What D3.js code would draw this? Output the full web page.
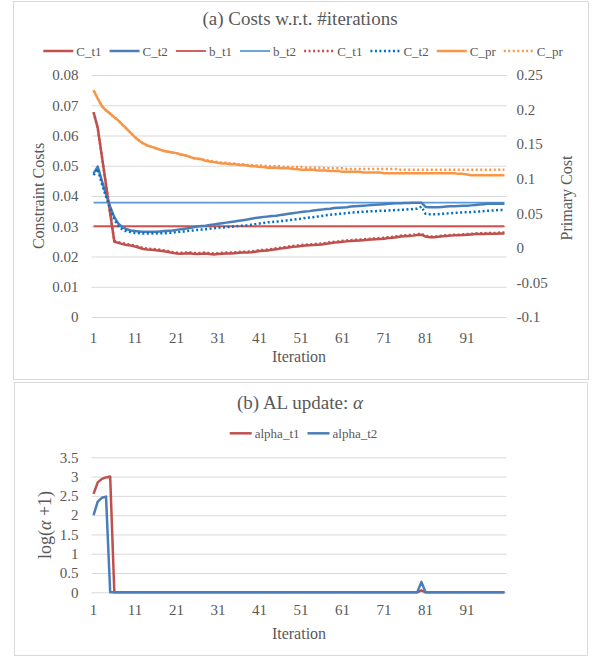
<!DOCTYPE html>
<html>
<head>
<meta charset="utf-8">
<script src="https://cdn.jsdelivr.net/npm/d3@7"></script>
<style>
  body { margin: 0; background: #fff; }
  svg text { font-family: "Liberation Serif", "DejaVu Serif", serif; fill: #595959; }
</style>
</head>
<body>
<div id="chart"></div>
<script>
// iterations 1..100
const iterations = d3.range(1, 101);
const xTicks = [1, 11, 21, 31, 41, 51, 61, 71, 81, 91];

// (a) constraint costs (left axis)
const C_t1 = [
  .0677,.0625,.0531,.0437,.0343,.0249,.0245,.0241,.0238,.0236,
  .0233,.0229,.0225,.0223,.0222,.0221,.0219,.0217,.0215,.0212,
  .0210,.0209,.0210,.0211,.0209,.0208,.0209,.0210,.0208,.0207,
  .0208,.0209,.0210,.0210,.0211,.0212,.0213,.0213,.0214,.0216,
  .0218,.0219,.0220,.0222,.0224,.0226,.0228,.0230,.0232,.0233,
  .0235,.0236,.0237,.0238,.0239,.0240,.0242,.0244,.0246,.0247,
  .0249,.0250,.0251,.0252,.0253,.0254,.0255,.0256,.0257,.0258,
  .0259,.0261,.0262,.0264,.0266,.0267,.0268,.0269,.0271,.0272,
  .0266,.0264,.0264,.0265,.0267,.0268,.0269,.0270,.0270,.0271,
  .0272,.0273,.0274,.0274,.0274,.0275,.0275,.0275,.0276,.0276
];
const C_t2 = [
  .0475,.0497,.0450,.0405,.0365,.0330,.0308,.0297,.0290,.0286,
  .0284,.0283,.0282,.0282,.0282,.0282,.0283,.0284,.0285,.0286,
  .0288,.0290,.0292,.0294,.0297,.0299,.0301,.0302,.0304,.0306,
  .0308,.0310,.0312,.0314,.0316,.0318,.0320,.0322,.0325,.0327,
  .0329,.0331,.0332,.0334,.0335,.0337,.0339,.0341,.0343,.0345,
  .0347,.0349,.0350,.0352,.0354,.0355,.0357,.0358,.0360,.0361,
  .0362,.0363,.0365,.0366,.0367,.0368,.0369,.0370,.0371,.0372,
  .0373,.0374,.0375,.0376,.0376,.0377,.0377,.0378,.0378,.0378,
  .0364,.0363,.0363,.0363,.0364,.0365,.0366,.0366,.0367,.0368,
  .0368,.0369,.0370,.0372,.0373,.0374,.0374,.0374,.0374,.0374
];
const b_t1 = [
  .03,.03,.03,.03,.03,.03,.03,.03,.03,.03,
  .03,.03,.03,.03,.03,.03,.03,.03,.03,.03,
  .03,.03,.03,.03,.03,.03,.03,.03,.03,.03,
  .03,.03,.03,.03,.03,.03,.03,.03,.03,.03,
  .03,.03,.03,.03,.03,.03,.03,.03,.03,.03,
  .03,.03,.03,.03,.03,.03,.03,.03,.03,.03,
  .03,.03,.03,.03,.03,.03,.03,.03,.03,.03,
  .03,.03,.03,.03,.03,.03,.03,.03,.03,.03,
  .03,.03,.03,.03,.03,.03,.03,.03,.03,.03,
  .03,.03,.03,.03,.03,.03,.03,.03,.03,.03
];
const b_t2 = [
  .0378,.0378,.0378,.0378,.0378,.0378,.0378,.0378,.0378,.0378,
  .0378,.0378,.0378,.0378,.0378,.0378,.0378,.0378,.0378,.0378,
  .0378,.0378,.0378,.0378,.0378,.0378,.0378,.0378,.0378,.0378,
  .0378,.0378,.0378,.0378,.0378,.0378,.0378,.0378,.0378,.0378,
  .0378,.0378,.0378,.0378,.0378,.0378,.0378,.0378,.0378,.0378,
  .0378,.0378,.0378,.0378,.0378,.0378,.0378,.0378,.0378,.0378,
  .0378,.0378,.0378,.0378,.0378,.0378,.0378,.0378,.0378,.0378,
  .0378,.0378,.0378,.0378,.0378,.0378,.0378,.0378,.0378,.0378,
  .0378,.0378,.0378,.0378,.0378,.0378,.0378,.0378,.0378,.0378,
  .0378,.0378,.0378,.0378,.0378,.0378,.0378,.0378,.0378,.0378
];
const C_t1_dot = [
  .0677,.0625,.0531,.0437,.0343,.0251,.0247,.0244,.0241,.0239,
  .0236,.0232,.0228,.0226,.0225,.0224,.0222,.0220,.0218,.0215,
  .0213,.0212,.0213,.0214,.0212,.0211,.0212,.0213,.0211,.0210,
  .0211,.0212,.0213,.0213,.0214,.0215,.0216,.0216,.0217,.0219,
  .0221,.0222,.0223,.0225,.0227,.0229,.0231,.0233,.0235,.0236,
  .0238,.0239,.0240,.0241,.0242,.0243,.0245,.0247,.0249,.0250,
  .0252,.0253,.0254,.0255,.0256,.0257,.0258,.0259,.0260,.0261,
  .0262,.0264,.0265,.0267,.0269,.0270,.0271,.0272,.0274,.0275,
  .0268,.0266,.0266,.0267,.0269,.0270,.0271,.0272,.0272,.0273,
  .0274,.0275,.0276,.0277,.0277,.0278,.0278,.0278,.0279,.0279
];
const C_t2_dot = [
  .0469,.0490,.0440,.0398,.0358,.0322,.0300,.0289,.0283,.0280,
  .0278,.0277,.0276,.0276,.0276,.0276,.0277,.0277,.0278,.0279,
  .0281,.0282,.0283,.0285,.0286,.0288,.0289,.0290,.0292,.0293,
  .0295,.0296,.0297,.0298,.0300,.0301,.0302,.0303,.0305,.0307,
  .0309,.0311,.0313,.0314,.0315,.0317,.0318,.0320,.0322,.0323,
  .0325,.0327,.0329,.0330,.0332,.0334,.0336,.0338,.0339,.0341,
  .0342,.0343,.0345,.0346,.0347,.0348,.0349,.0350,.0350,.0351,
  .0351,.0352,.0353,.0354,.0354,.0355,.0356,.0357,.0358,.0365,
  .0341,.0340,.0340,.0340,.0341,.0342,.0343,.0344,.0345,.0346,
  .0346,.0347,.0348,.0349,.0350,.0351,.0352,.0353,.0354,.0354
];

// (a) primary cost (right axis)
const C_pr = [
  .228,.216,.205,.199,.194,.189,.184,.178,.172,.166,
  .160,.155,.151,.148,.146,.144,.142,.140,.139,.138,
  .137,.135,.134,.132,.130,.129,.128,.126,.125,.124,
  .123,.122,.122,.121,.121,.120,.120,.119,.118,.118,
  .117,.117,.116,.116,.116,.115,.115,.115,.114,.114,
  .113,.113,.113,.113,.112,.112,.112,.111,.111,.111,
  .110,.110,.110,.110,.110,.109,.109,.109,.109,.109,
  .108,.108,.108,.108,.108,.108,.108,.108,.108,.108,
  .108,.108,.108,.108,.108,.108,.108,.108,.107,.107,
  .106,.105,.105,.105,.105,.105,.105,.105,.105,.105
];
const C_pr_dot = [
  .228,.216,.205,.199,.194,.189,.184,.178,.172,.166,
  .160,.155,.151,.148,.146,.144,.142,.140,.139,.138,
  .137,.135,.134,.132,.130,.129,.128,.127,.126,.125,
  .124,.123,.123,.122,.122,.121,.121,.120,.120,.119,
  .119,.119,.118,.118,.118,.118,.117,.117,.117,.117,
  .117,.116,.116,.116,.116,.116,.115,.115,.115,.115,
  .115,.114,.114,.114,.114,.114,.114,.114,.114,.114,
  .114,.114,.114,.114,.113,.113,.113,.113,.113,.113,
  .113,.113,.113,.113,.113,.113,.113,.113,.113,.113,
  .113,.113,.113,.113,.113,.113,.113,.113,.113,.113
];

// (b) AL update, log(alpha+1)
const alpha_t1 = [
  2.55,2.85,2.94,2.98,3.00,0,0,0,0,0,
  0,0,0,0,0,0,0,0,0,0,
  0,0,0,0,0,0,0,0,0,0,
  0,0,0,0,0,0,0,0,0,0,
  0,0,0,0,0,0,0,0,0,0,
  0,0,0,0,0,0,0,0,0,0,
  0,0,0,0,0,0,0,0,0,0,
  0,0,0,0,0,0,0,0,0,0.05,
  0,0,0,0,0,0,0,0,0,0,
  0,0,0,0,0,0,0,0,0,0
];
const alpha_t2 = [
  2.00,2.35,2.45,2.48,0,0,0,0,0,0,
  0,0,0,0,0,0,0,0,0,0,
  0,0,0,0,0,0,0,0,0,0,
  0,0,0,0,0,0,0,0,0,0,
  0,0,0,0,0,0,0,0,0,0,
  0,0,0,0,0,0,0,0,0,0,
  0,0,0,0,0,0,0,0,0,0,
  0,0,0,0,0,0,0,0,0,0.27,
  0,0,0,0,0,0,0,0,0,0,
  0,0,0,0,0,0,0,0,0,0
];

const leftTicks = [0, .01, .02, .03, .04, .05, .06, .07, .08];
const rightTicks = [-.1, -.05, 0, .05, .1, .15, .2, .25];
const alphaTicks = [0, .5, 1, 1.5, 2, 2.5, 3, 3.5];

const w = 593, h = 659;
const gridColor = "#d9d9d9";
const serif = '"Liberation Serif", "DejaVu Serif", serif';
const fmt = d => String(+d.toFixed(2));

const svg = d3.select("#chart").append("svg")
  .attr("width", w).attr("height", h)
  .attr("font-family", serif);

// panel borders
svg.append("rect").attr("x", 13.5).attr("y", 1.5).attr("width", 575).attr("height", 378)
  .attr("fill", "#fff").attr("stroke", gridColor);
svg.append("rect").attr("x", 14.5).attr("y", 382.5).attr("width", 573).attr("height", 273)
  .attr("fill", "#fff").attr("stroke", gridColor);

const x = d3.scaleBand().domain(iterations).range([91.5, 506.5]);
const xc = d => x(d) + x.bandwidth() / 2;

function styleTicks(g) {
  g.attr("font-family", serif);
  g.selectAll(".tick text").attr("font-size", 15).attr("fill", "#595959");
}

// ---------- (a) ----------
const topA = 75, botA = 317;
const yL = d3.scaleLinear().domain([0, .08]).range([botA, topA]);
const yR = d3.scaleLinear().domain([-.1, .25]).range([botA, topA]);

const gA = svg.append("g");

gA.append("g")
  .attr("transform", "translate(91.5,0)")
  .call(d3.axisLeft(yL).tickValues(leftTicks).tickSize(-415).tickPadding(13).tickFormat(fmt))
  .call(g => g.select(".domain").remove())
  .call(g => g.selectAll(".tick line").attr("stroke", gridColor))
  .call(styleTicks);

gA.append("g")
  .attr("transform", "translate(506.5,0)")
  .call(d3.axisRight(yR).tickValues(rightTicks).tickSize(0).tickPadding(10).tickFormat(fmt))
  .call(g => g.select(".domain").remove())
  .call(styleTicks);

gA.append("g")
  .attr("transform", "translate(0," + botA + ")")
  .call(d3.axisBottom(x).tickValues(xTicks).tickSize(0).tickPadding(15))
  .call(g => g.select(".domain").remove())
  .call(styleTicks);

gA.append("text").text("(a) Costs w.r.t. #iterations")
  .attr("x", 300).attr("y", 25).attr("text-anchor", "middle").attr("font-size", 19);
gA.append("text").text("Iteration")
  .attr("x", 299).attr("y", 362).attr("text-anchor", "middle").attr("font-size", 16);
gA.append("text").text("Constraint Costs")
  .attr("transform", "translate(44,196)rotate(-90)").attr("text-anchor", "middle").attr("font-size", 16);
gA.append("text").text("Primary Cost")
  .attr("transform", "translate(572,198)rotate(-90)").attr("text-anchor", "middle").attr("font-size", 16);

const seriesA = [
  { values: b_t1, color: "#d0504e", width: 1.8, dash: null, y: yL },
  { values: b_t2, color: "#5b9bd5", width: 1.8, dash: null, y: yL },
  { values: C_t1, color: "#c0504d", width: 2.5, dash: null, y: yL },
  { values: C_t2, color: "#4a7ebb", width: 2.5, dash: null, y: yL },
  { values: C_t1_dot, color: "#c0504d", width: 2.5, dash: "2,2.5", y: yL },
  { values: C_t2_dot, color: "#0070c0", width: 2.5, dash: "2,2.5", y: yL },
  { values: C_pr, color: "#f79646", width: 2.5, dash: null, y: yR },
  { values: C_pr_dot, color: "#f79646", width: 2.5, dash: "2,2.5", y: yR }
];

seriesA.forEach(s => {
  const line = d3.line().x((d, i) => xc(iterations[i])).y(d => s.y(d));
  gA.append("path").datum(s.values)
    .attr("d", line).attr("fill", "none")
    .attr("stroke", s.color).attr("stroke-width", s.width)
    .attr("stroke-dasharray", s.dash)
    .attr("stroke-linejoin", "round");
});

// legend (a), in Excel series order
const legendA = [
  { name: "C_t1", color: "#c0504d", dash: null, w: 2.5 },
  { name: "C_t2", color: "#4a7ebb", dash: null, w: 2.5 },
  { name: "b_t1", color: "#d0504e", dash: null, w: 1.8 },
  { name: "b_t2", color: "#5b9bd5", dash: null, w: 1.8 },
  { name: "C_t1", color: "#c0504d", dash: "2,2.5", w: 2.5 },
  { name: "C_t2", color: "#0070c0", dash: "2,2.5", w: 2.5 },
  { name: "C_pr", color: "#f79646", dash: null, w: 2.5 },
  { name: "C_pr", color: "#f79646", dash: "2,2.5", w: 2.5 }
];

function drawLegend(items, cx, cy, lineLen) {
  const g = svg.append("g");
  const parts = items.map(it => {
    const t = g.append("text").text(it.name).attr("font-size", 13).attr("y", cy + 4.5);
    return { it, t, tw: t.node().getComputedTextLength() };
  });
  const gap = 3, sep = 8;
  const total = d3.sum(parts, p => lineLen + gap + p.tw) + sep * (parts.length - 1);
  let cur = cx - total / 2;
  parts.forEach(p => {
    g.append("line").attr("x1", cur).attr("x2", cur + lineLen)
      .attr("y1", cy).attr("y2", cy)
      .attr("stroke", p.it.color).attr("stroke-width", p.it.w)
      .attr("stroke-dasharray", p.it.dash);
    p.t.attr("x", cur + lineLen + gap);
    cur += lineLen + gap + p.tw + sep;
  });
}
drawLegend(legendA, 303, 51, 30);

// ---------- (b) ----------
const topB = 457.3, botB = 592.3;
const yB = d3.scaleLinear().domain([0, 3.5]).range([botB, topB]);
const gB = svg.append("g");

gB.append("g")
  .attr("transform", "translate(91.5,0)")
  .call(d3.axisLeft(yB).tickValues(alphaTicks).tickSize(-415).tickPadding(13).tickFormat(fmt))
  .call(g => g.select(".domain").remove())
  .call(g => g.selectAll(".tick line").attr("stroke", gridColor))
  .call(styleTicks);

gB.append("g")
  .attr("transform", "translate(0," + botB + ")")
  .call(d3.axisBottom(x).tickValues(xTicks).tickSize(0).tickPadding(12))
  .call(g => g.select(".domain").remove())
  .call(styleTicks);

const titleB = gB.append("text").attr("x", 300).attr("y", 409)
  .attr("text-anchor", "middle").attr("font-size", 19);
titleB.append("tspan").text("(b) AL update: ");
titleB.append("tspan").text("α").attr("font-style", "italic");

gB.append("text").text("Iteration")
  .attr("x", 299).attr("y", 639).attr("text-anchor", "middle").attr("font-size", 16);

const yTitleB = gB.append("text")
  .attr("transform", "translate(51,525)rotate(-90)").attr("text-anchor", "middle").attr("font-size", 18);
yTitleB.append("tspan").text("log(");
yTitleB.append("tspan").text("α").attr("font-style", "italic");
yTitleB.append("tspan").text(" +1)");

const seriesB = [
  { name: "alpha_t1", values: alpha_t1, color: "#c0504d" },
  { name: "alpha_t2", values: alpha_t2, color: "#4a7ebb" }
];
seriesB.forEach(s => {
  const line = d3.line().x((d, i) => xc(iterations[i])).y(d => yB(d));
  gB.append("path").datum(s.values)
    .attr("d", line).attr("fill", "none")
    .attr("stroke", s.color).attr("stroke-width", 2.5)
    .attr("stroke-linejoin", "round");
});

drawLegend(seriesB.map(s => ({ name: s.name, color: s.color, dash: null, w: 2.5 })), 303.5, 433.3, 22);
</script>
</body>
</html>
